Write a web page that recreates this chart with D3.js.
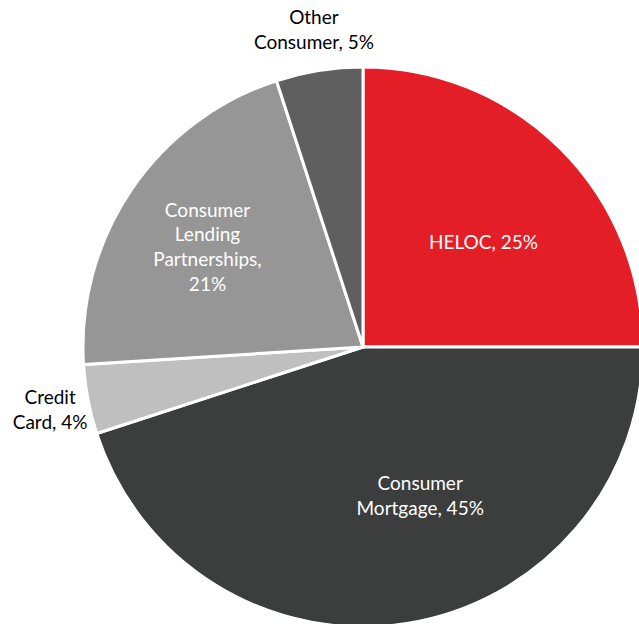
<!DOCTYPE html>
<html>
<head>
<meta charset="utf-8">
<script src="https://cdn.jsdelivr.net/npm/d3@7"></script>
<style>
  html, body { margin: 0; padding: 0; background: #fff; }
  svg { display: block; }
  text { font-family: Lato, "Open Sans", sans-serif; font-size: 19px; }
</style>
</head>
<body>
<svg id="chart" width="639" height="624"></svg>
<script>
// ---- data ----
const categories = ["HELOC", "Consumer Mortgage", "Credit Card", "Consumer Lending Partnerships", "Other Consumer"];
const values = [25, 45, 4, 21, 5];
const labelLines = [
  ["HELOC, 25%"],
  ["Consumer", "Mortgage, 45%"],
  ["Credit", "Card, 4%"],
  ["Consumer", "Lending", "Partnerships,", "21%"],
  ["Other", "Consumer, 5%"]
];

// ---- styling / layout ----
const colors = ["#E41E26", "#3C3D3D", "#BFBFBF", "#969696", "#5F5F5F"];
const textColors = ["#ffffff", "#ffffff", "#000000", "#ffffff", "#000000"];
const labelRadiusFactor = [0.57, 0.57, 1.14, 0.66, 1.146];
const labelAngleShift = [4, -12, -0.6, -1.5, 0.2]; // degrees
const cx = 363, cy = 347, R = 280, lineH = 24.8;

const svg = d3.select("#chart");
const g = svg.append("g").attr("transform", `translate(${cx},${cy})`);

const pie = d3.pie().sort(null).value(d => d.v);
const arcs = pie(values.map((v, i) => ({ v, i })));
const arc = d3.arc().innerRadius(0).outerRadius(R);

g.selectAll("path.slice")
  .data(arcs)
  .join("path")
  .attr("class", "slice")
  .attr("d", arc)
  .attr("fill", d => colors[d.data.i])
  .attr("stroke", "#fff")
  .attr("stroke-width", 3)
  .attr("stroke-linejoin", "miter");

arcs.forEach(d => {
  const i = d.data.i;
  const mid = (d.startAngle + d.endAngle) / 2 + labelAngleShift[i] * Math.PI / 180;
  const r = R * labelRadiusFactor[i];
  const x = Math.sin(mid) * r;
  const y = -Math.cos(mid) * r;
  const lines = labelLines[i];
  const t = g.append("text")
    .attr("text-anchor", "middle")
    .attr("fill", textColors[i]);
  lines.forEach((ln, k) => {
    t.append("tspan")
      .attr("x", x)
      .attr("y", y + (k - (lines.length - 1) / 2) * lineH)
      .attr("dy", "0.35em")
      .text(ln);
  });
});
</script>
</body>
</html>
